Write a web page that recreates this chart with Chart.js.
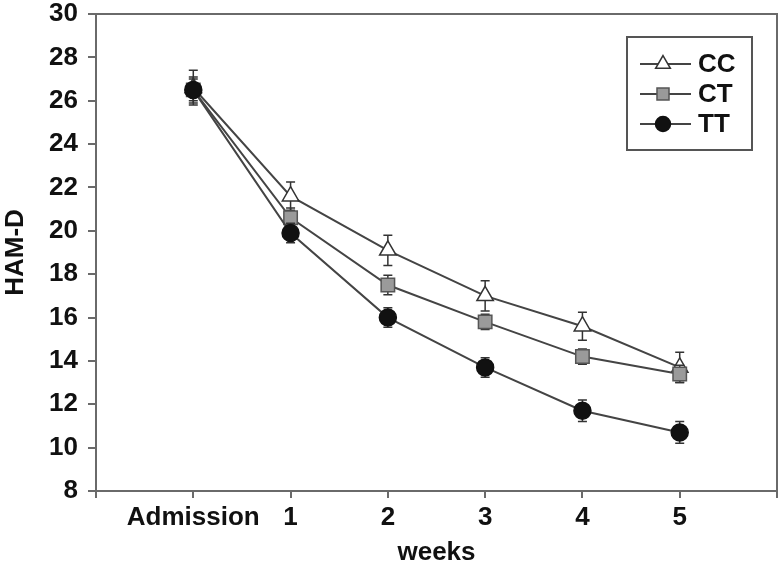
<!DOCTYPE html>
<html><head><meta charset="utf-8">
<script src="https://cdn.jsdelivr.net/npm/chart.js@4/dist/chart.umd.min.js"></script>
<style>html,body{margin:0;padding:0;background:#fff}#wrap{width:779px;height:568px}</style>
</head><body><div id="wrap"><canvas id="c" width="779" height="568"></canvas></div>
<script>
// ---- data ----
const categories = ['Admission', '1', '2', '3', '4', '5'];
const xPositions = [0, 1, 2, 3, 4, 5];
const seriesNames = ['CC', 'CT', 'TT'];
const ccValues = [26.6, 21.6, 19.1, 17.0, 15.6, 13.7];
const ccErrors = [0.8, 0.65, 0.7, 0.7, 0.65, 0.7];
const ctValues = [26.5, 20.6, 17.5, 15.8, 14.2, 13.4];
const ctErrors = [0.6, 0.45, 0.45, 0.35, 0.35, 0.4];
const ttValues = [26.5, 19.9, 16.0, 13.7, 11.7, 10.7];
const ttErrors = [0.5, 0.45, 0.45, 0.45, 0.5, 0.5];
const yMin = 8, yMax = 30, yStep = 2;
const xMin = -1, xMax = 6;
const xTitle = 'weeks';
const yTitle = 'HAM-D';

const FONT = '"Liberation Sans", Arial, Helvetica, sans-serif';
const FS = 26;
const LINE = '#444444';
const AXIS = '#6a6a6a';

const styles = [
  { pointStyle: 'triangle', radius: 9.5, bg: '#ffffff', border: '#333333' },
  { pointStyle: 'rect', radius: 9.5, bg: '#9a9a9a', border: '#555555' },
  { pointStyle: 'circle', radius: 8.5, bg: '#111111', border: '#111111' }
];
const allValues = [ccValues, ctValues, ttValues];
const allErrors = [ccErrors, ctErrors, ttErrors];

const datasets = seriesNames.map((name, i) => ({
  label: name,
  data: xPositions.map((x, j) => ({ x: x, y: allValues[i][j] })),
  errors: allErrors[i],
  borderColor: LINE,
  borderWidth: 2,
  tension: 0,
  fill: false,
  pointStyle: styles[i].pointStyle,
  pointRadius: styles[i].radius,
  pointBackgroundColor: styles[i].bg,
  pointBorderColor: styles[i].border,
  pointBorderWidth: 1.5,
  order: seriesNames.length - i
}));

const errorBars = {
  id: 'errorBars',
  beforeDatasetDraw(chart, args) {
    const ds = chart.data.datasets[args.index];
    const xs = chart.scales.x, ys = chart.scales.y;
    const ctx = chart.ctx;
    ctx.save();
    ctx.strokeStyle = '#333333';
    ctx.lineWidth = 1.5;
    ds.data.forEach((p, j) => {
      const e = ds.errors[j];
      const px = xs.getPixelForValue(p.x);
      const top = ys.getPixelForValue(p.y + e);
      const bot = ys.getPixelForValue(p.y - e);
      ctx.beginPath();
      ctx.moveTo(px, top); ctx.lineTo(px, bot);
      ctx.moveTo(px - 4.5, top); ctx.lineTo(px + 4.5, top);
      ctx.moveTo(px - 4.5, bot); ctx.lineTo(px + 4.5, bot);
      ctx.stroke();
    });
    ctx.restore();
  }
};

const frameAndLegend = {
  id: 'frameAndLegend',
  afterDraw(chart) {
    const ctx = chart.ctx;
    const a = chart.chartArea;
    ctx.save();
    ctx.strokeStyle = AXIS;
    ctx.lineWidth = 2;
    ctx.beginPath();
    ctx.moveTo(a.left, a.top); ctx.lineTo(a.right, a.top); ctx.lineTo(a.right, a.bottom);
    ctx.stroke();
    // legend box
    const bx = a.right - 150, by = a.top + 23, bw = 125, bh = 113;
    ctx.fillStyle = '#ffffff';
    ctx.fillRect(bx, by, bw, bh);
    ctx.strokeStyle = '#555555';
    ctx.lineWidth = 2;
    ctx.strokeRect(bx, by, bw, bh);
    seriesNames.forEach((name, i) => {
      const cy = by + 27 + i * 30;
      ctx.strokeStyle = LINE;
      ctx.lineWidth = 2;
      ctx.beginPath();
      ctx.moveTo(bx + 13, cy); ctx.lineTo(bx + 64, cy);
      ctx.stroke();
      ctx.fillStyle = styles[i].bg;
      ctx.strokeStyle = styles[i].border;
      ctx.lineWidth = 1.5;
      Chart.helpers.drawPoint(ctx, { pointStyle: styles[i].pointStyle, radius: styles[i].radius - 1, rotation: 0, borderWidth: 1.5 }, bx + 36, cy);
      ctx.fillStyle = '#111111';
      ctx.font = 'bold ' + FS + 'px ' + FONT;
      ctx.textBaseline = 'middle';
      ctx.textAlign = 'left';
      ctx.fillText(name, bx + 71, cy + 1);
    });
    ctx.restore();
  }
};

new Chart(document.getElementById('c'), {
  type: 'line',
  data: { datasets: datasets },
  options: {
    responsive: false,
    animation: false,
    devicePixelRatio: 1,
    layout: { autoPadding: false, padding: { top: 14, right: 2, left: 0, bottom: 0 } },
    plugins: { legend: { display: false }, tooltip: { enabled: false } },
    scales: {
      x: {
        type: 'linear',
        min: xMin, max: xMax,
        afterFit(s) { s.height = 77; s.paddingLeft = 0; s.paddingRight = 0; },
        ticks: {
          stepSize: 1,
          padding: 4,
          color: '#111111',
          font: { family: FONT, size: FS, weight: 'bold' },
          maxRotation: 0,
          autoSkip: false,
          callback: (v) => { const k = xPositions.indexOf(v); return k >= 0 ? categories[k] : ''; }
        },
        grid: { drawOnChartArea: false, drawTicks: true, tickLength: 7, color: AXIS, lineWidth: 2 },
        border: { display: true, color: AXIS, width: 2 },
        title: { display: true, text: xTitle, color: '#111111', font: { family: FONT, size: FS, weight: 'bold' }, padding: { top: 0, bottom: 0 } }
      },
      y: {
        min: yMin, max: yMax,
        afterFit(s) { s.width = 96; s.paddingTop = 0; s.paddingBottom = 0; },
        ticks: {
          stepSize: yStep,
          padding: 10,
          color: '#111111',
          font: { family: FONT, size: FS, weight: 'bold' }
        },
        grid: { drawOnChartArea: false, drawTicks: true, tickLength: 8, color: AXIS, lineWidth: 2 },
        border: { display: true, color: AXIS, width: 2 },
        title: { display: true, text: yTitle, color: '#111111', font: { family: FONT, size: FS, weight: 'bold' }, padding: { top: 0, bottom: 0 } }
      }
    }
  },
  plugins: [errorBars, frameAndLegend]
});
</script>
</body></html>
